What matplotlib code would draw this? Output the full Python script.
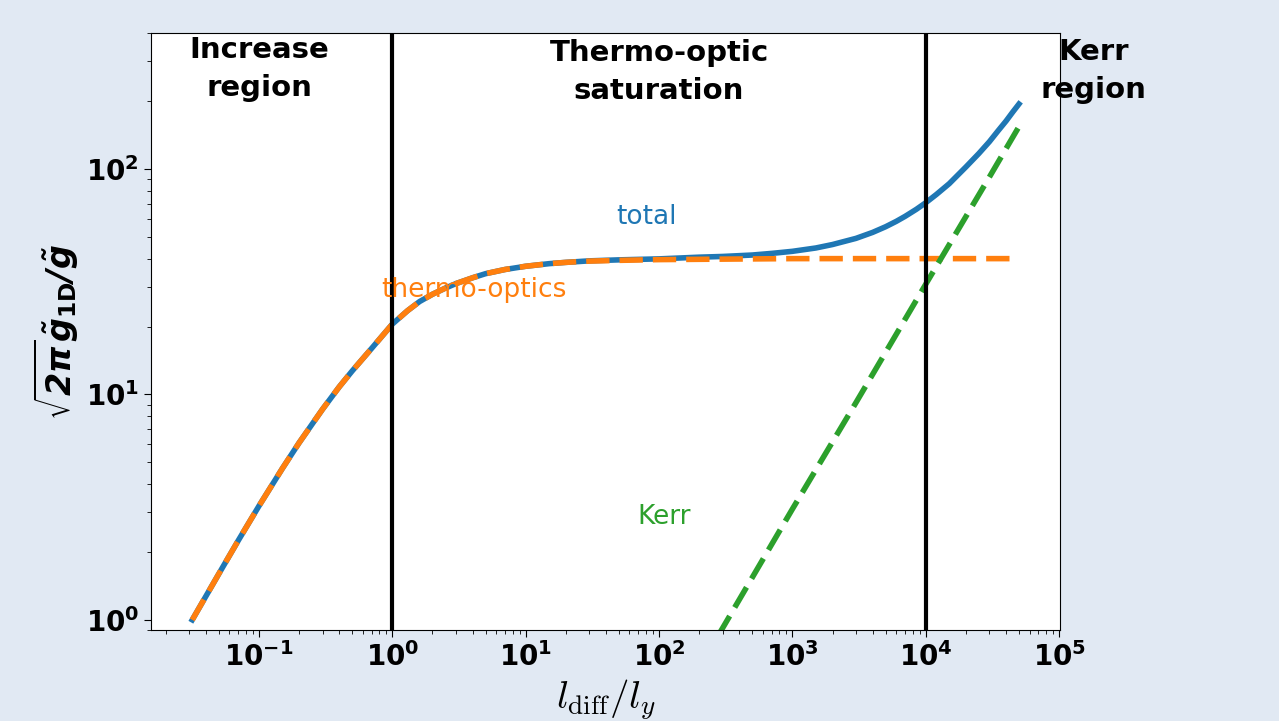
import math
import matplotlib.pyplot as plt
from matplotlib.ticker import FuncFormatter

# values (log-log axes)
x_thermo = [0.0316, 0.05, 0.07, 0.1, 0.15, 0.2, 0.3, 0.4, 0.5, 0.7, 1.0, 1.3, 1.6, 2.0,
            2.5, 3.0, 4.0, 5.0, 7.0, 10.0, 15.0, 20.0, 30.0, 50.0, 100.0, 1000.0,
            10000.0, 50000.0]
thermo = [1.0, 1.6, 2.25, 3.2, 4.7, 6.1, 8.6, 10.8, 12.7, 16.0, 20.5, 23.5, 25.8, 27.8,
          29.6, 31.0, 32.9, 34.3, 35.8, 37.0, 38.0, 38.5, 39.0, 39.3, 39.6, 40.0,
          40.0, 40.0]

x_total = [0.0316, 0.05, 0.07, 0.1, 0.15, 0.2, 0.3, 0.4, 0.5, 0.7, 1.0, 1.3, 1.6, 2.0,
           2.5, 3.0, 4.0, 5.0, 7.0, 10.0, 15.0, 20.0, 30.0, 50.0, 100.0, 200.0,
           300.0, 500.0, 700.0, 1000.0, 1500.0, 2000.0, 3000.0, 4000.0, 5000.0,
           6000.0, 7000.0, 8500.0, 10000.0, 12000.0, 15000.0, 20000.0, 25000.0,
           30000.0, 35000.0, 40000.0, 45000.0, 50000.0]
total = [1.0, 1.6, 2.25, 3.2, 4.7, 6.1, 8.6, 10.8, 12.7, 16.0, 20.5, 23.5, 25.8, 27.8,
         29.6, 31.0, 32.9, 34.3, 35.8, 37.0, 38.0, 38.5, 39.1, 39.5, 39.9, 40.6,
         40.9, 41.5, 42.2, 43.1, 44.6, 46.2, 49.2, 52.3, 55.4, 58.5, 61.6, 66.2,
         70.8, 77.0, 86.0, 102.0, 117.0, 132.0, 148.0, 163.0, 179.0, 194.0]

x_kerr = [100.0, 300.0, 1000.0, 3000.0, 10000.0, 30000.0, 50000.0]
kerr = [0.31, 0.92, 3.1, 9.2, 30.8, 92.0, 154.0]

boundaries = [1.0, 1e4]
regions = ["Increase\nregion", "Thermo-optic\nsaturation", "Kerr\nregion"]
region_x = [0.1, 100.0, 1.8e5]
region_y = [390, 375, 380]

fig = plt.figure(figsize=(12.79, 7.21), dpi=100, facecolor='#e1e9f3')
ax = fig.add_axes([0.118, 0.126, 0.711, 0.828])

ax.plot(x_total, total, color='C0', lw=4)
ax.plot(x_thermo, thermo, '--', color='C1', lw=4, dashes=(4.2, 1.8))
ax.plot(x_kerr, kerr, '--', color='C2', lw=4, dashes=(4.2, 1.8))

for b in boundaries:
    ax.axvline(b, color='black', lw=3)

ax.set_xscale('log')
ax.set_yscale('log')
ax.set_ylim(0.9, 400)

ax.text(81, 61, 'total', color='C0', fontsize=19, ha='center', va='center')
ax.text(4.1, 29, 'thermo-optics', color='C1', fontsize=19, ha='center', va='center')
ax.text(110, 2.87, 'Kerr', color='C2', fontsize=19, ha='center', va='center')

for label, xr, yr in zip(regions, region_x, region_y):
    ax.text(xr, yr, label, fontsize=21, fontweight='bold', ha='center', va='top',
            linespacing=1.45)

fmt = FuncFormatter(lambda v, pos: r'$\mathbf{10^{%d}}$' % round(math.log10(v)))
ax.xaxis.set_major_formatter(fmt)
ax.yaxis.set_major_formatter(fmt)
ax.tick_params(which='major', labelsize=20, length=5)
ax.tick_params(which='minor', length=3)

ax.set_xlabel(r'$l_{\rm diff}/l_y$', fontsize=28, math_fontfamily='cm', labelpad=4)
ax.set_ylabel(r'$\mathbfit{\sqrt{2\pi}\tilde{g}}_{\mathbf{1D}}\mathbfit{/\tilde{g}}$',
              fontsize=24)

fig.savefig('out.png', dpi=100, facecolor=fig.get_facecolor())
